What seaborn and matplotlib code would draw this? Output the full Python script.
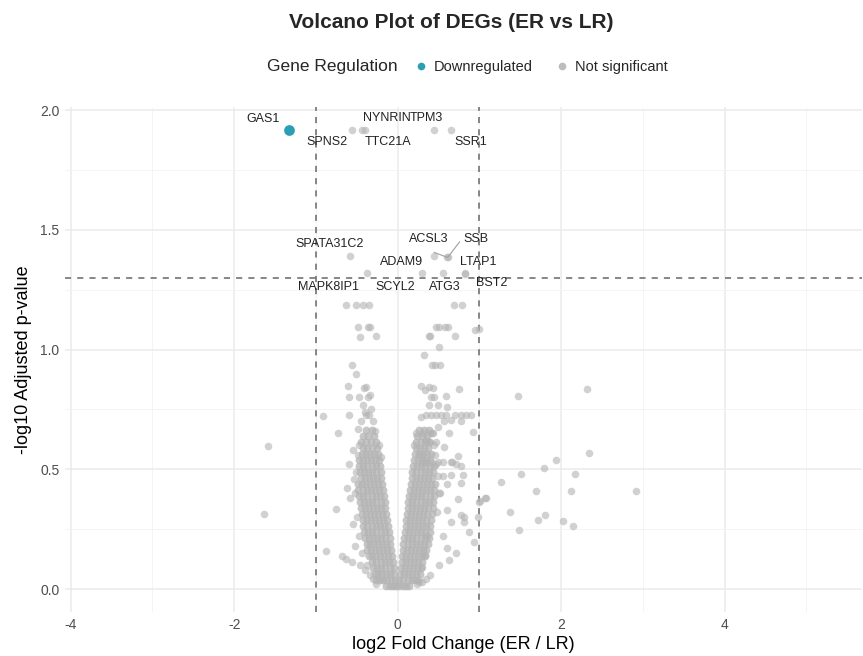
import matplotlib
matplotlib.use("Agg")
import matplotlib.pyplot as plt
from matplotlib.lines import Line2D
import numpy as np
import pandas as pd
import seaborn as sns

# ---------------- data ----------------
# dense V-shaped cloud of non-significant genes, listed row by row: (-log10 padj, [log2FC ...])
cloud_left = [
    (0.0125, [-0.02, -0.06, -0.10, -0.14]),
    (0.0375, [-0.03, -0.08, -0.13, -0.18, -0.22, -0.26]),
    (0.0625, [-0.04, -0.09, -0.14, -0.19, -0.24, -0.28]),
    (0.0875, [-0.05, -0.10, -0.15, -0.20, -0.25, -0.30]),
    (0.1125, [-0.06, -0.11, -0.16, -0.21, -0.26, -0.31]),
    (0.1375, [-0.07, -0.12, -0.17, -0.22, -0.27, -0.32, -0.35]),
    (0.1625, [-0.08, -0.13, -0.18, -0.23, -0.28, -0.33, -0.37]),
    (0.1875, [-0.09, -0.14, -0.19, -0.24, -0.29, -0.34, -0.38]),
    (0.2125, [-0.10, -0.15, -0.20, -0.25, -0.30, -0.35, -0.40]),
    (0.2375, [-0.11, -0.16, -0.21, -0.26, -0.31, -0.36, -0.41]),
    (0.2625, [-0.12, -0.17, -0.22, -0.27, -0.32, -0.37, -0.42]),
    (0.2875, [-0.13, -0.18, -0.23, -0.28, -0.33, -0.38, -0.43]),
    (0.3125, [-0.14, -0.19, -0.24, -0.29, -0.34, -0.39, -0.44]),
    (0.3375, [-0.15, -0.20, -0.25, -0.30, -0.35, -0.40, -0.45]),
    (0.3625, [-0.16, -0.21, -0.26, -0.31, -0.36, -0.41, -0.46]),
    (0.3875, [-0.17, -0.22, -0.27, -0.32, -0.37, -0.42, -0.47]),
    (0.4125, [-0.18, -0.23, -0.28, -0.33, -0.38, -0.43, -0.48]),
    (0.4375, [-0.19, -0.24, -0.29, -0.34, -0.39, -0.44, -0.49]),
    (0.4625, [-0.20, -0.25, -0.30, -0.35, -0.40, -0.45]),
    (0.4875, [-0.21, -0.26, -0.31, -0.36, -0.41, -0.46]),
    (0.5125, [-0.22, -0.27, -0.32, -0.37, -0.42, -0.47]),
    (0.5375, [-0.23, -0.28, -0.33, -0.38, -0.43, -0.47]),
    (0.5625, [-0.24, -0.29, -0.34, -0.39, -0.44]),
    (0.5875, [-0.25, -0.31, -0.37, -0.43]),
    (0.6125, [-0.27, -0.33, -0.39, -0.45]),
    (0.6375, [-0.29, -0.36, -0.43]),
    (0.6625, [-0.31, -0.39]),
]
cloud_right = [
    (0.0125, [0.02, 0.06, 0.10, 0.14]),
    (0.0375, [0.02, 0.07, 0.12, 0.17, 0.21, 0.25]),
    (0.0625, [0.03, 0.08, 0.13, 0.18, 0.23, 0.27]),
    (0.0875, [0.04, 0.09, 0.14, 0.19, 0.24, 0.28]),
    (0.1125, [0.05, 0.10, 0.15, 0.20, 0.25, 0.30]),
    (0.1375, [0.05, 0.10, 0.15, 0.20, 0.25, 0.30, 0.33]),
    (0.1625, [0.06, 0.11, 0.16, 0.21, 0.26, 0.31, 0.35]),
    (0.1875, [0.07, 0.12, 0.17, 0.22, 0.27, 0.32, 0.37]),
    (0.2125, [0.08, 0.13, 0.18, 0.23, 0.28, 0.33, 0.38]),
    (0.2375, [0.09, 0.14, 0.19, 0.24, 0.29, 0.34, 0.39]),
    (0.2625, [0.10, 0.15, 0.20, 0.25, 0.30, 0.35, 0.40]),
    (0.2875, [0.10, 0.15, 0.20, 0.25, 0.30, 0.35, 0.41]),
    (0.3125, [0.11, 0.16, 0.21, 0.26, 0.31, 0.36, 0.42]),
    (0.3375, [0.12, 0.17, 0.22, 0.27, 0.32, 0.37, 0.43]),
    (0.3625, [0.13, 0.18, 0.23, 0.28, 0.33, 0.38, 0.43]),
    (0.3875, [0.14, 0.19, 0.24, 0.29, 0.34, 0.39, 0.44]),
    (0.4125, [0.15, 0.20, 0.25, 0.30, 0.35, 0.40, 0.45]),
    (0.4375, [0.16, 0.21, 0.26, 0.31, 0.36, 0.41, 0.46]),
    (0.4625, [0.17, 0.22, 0.27, 0.32, 0.37, 0.42]),
    (0.4875, [0.18, 0.23, 0.28, 0.33, 0.38, 0.43]),
    (0.5125, [0.19, 0.24, 0.29, 0.34, 0.39, 0.44]),
    (0.5375, [0.20, 0.25, 0.30, 0.35, 0.40]),
    (0.5625, [0.21, 0.26, 0.31, 0.36, 0.41]),
    (0.5875, [0.22, 0.27, 0.32, 0.37]),
    (0.6125, [0.23, 0.28, 0.33, 0.38]),
    (0.6375, [0.24, 0.30, 0.36]),
    (0.6625, [0.26, 0.32, 0.38]),
]

# scattered non-significant genes outside the dense cloud
scatter_fc = [
    -0.913, -0.88, -1.585, -1.64, -0.73, -0.75, -0.68, -0.636, -0.56, -0.456, -0.34, -0.40,
    -0.52, -0.55, -0.58, -0.62, -0.54, -0.60, -0.55, -0.607, -0.383, -0.41, -0.60, -0.477,
    -0.334, -0.36, -0.42, -0.595, -0.39, -0.35, -0.559, -0.513, -0.456, -0.269, -0.49, -0.363,
    -0.342, -0.63, -0.51, -0.43, -0.35, -0.45, -0.30, -0.48, -0.28, -0.40, -0.33,
    -0.50, -0.47, -0.44, -0.38, -0.30, -0.27, -0.52, -0.51, -0.49, -0.47, -0.23, -0.20,
    0.685, 0.786, 0.47, 0.50, 0.58, 0.62, 0.95, 1.00, 0.383, 0.40, 0.70, 0.505, 0.318,
    0.42, 0.46, 0.52, 0.285, 0.387, 0.428, 0.34, 0.746, 0.59, 0.41, 0.45, 0.387, 0.49, 0.60,
    0.35, 0.41, 0.47, 0.53, 0.595, 0.70, 0.78, 0.84, 0.90,
    0.285, 0.652, 0.774, 0.57, 0.49, 0.917, 0.306, 0.39, 0.43, 0.63, 0.346, 0.39, 0.47, 0.57,
    0.285, 0.733, 0.67, 0.31, 0.35, 0.41, 0.49, 0.55, 0.65, 0.71, 0.774, 0.652, 0.795, 0.55,
    0.60, 0.774, 0.52, 0.733, 0.998, 1.07, 0.774, 0.815, 0.978, 0.60, 0.65, 0.815, 0.875,
    0.937, 0.55, 0.60, 0.713, 0.63, 0.50, 0.40, 0.35, 0.30,
    0.48, 0.50, 0.49, 0.47, 0.46, 0.44, 0.42, 0.36, 0.33, 0.30, 0.26, 0.24, 0.20, 0.22,
    1.476, 2.32, 2.34, 1.94, 1.785, 1.51, 2.17, 1.26, 1.69, 2.12, 2.92, 1.076, 1.01, 1.37,
    1.80, 1.72, 2.02, 2.15, 1.48,
]
scatter_p = [
    0.724, 0.157, 0.597, 0.312, 0.65, 0.333, 0.139, 0.125, 0.114, 0.100, 0.058, 0.080,
    0.18, 0.27, 0.38, 0.42, 0.46, 0.52, 0.58, 0.848, 0.845, 0.840, 0.800, 0.803,
    0.810, 0.800, 0.768, 0.726, 0.726, 0.726, 0.934, 0.898, 1.051, 1.056, 1.093, 1.093,
    1.093, 1.186, 1.186, 1.186, 1.186, 0.70, 0.70, 0.67, 0.66, 0.74, 0.75,
    0.30, 0.22, 0.15, 0.10, 0.04, 0.02, 0.40, 0.49, 0.56, 0.60, 0.60, 0.55,
    1.186, 1.186, 1.093, 1.093, 1.093, 1.093, 1.080, 1.085, 1.056, 1.056, 1.056, 1.012, 0.977,
    0.934, 0.934, 0.934, 0.848, 0.845, 0.838, 0.830, 0.834, 0.806, 0.803, 0.803, 0.768, 0.768, 0.761,
    0.727, 0.727, 0.727, 0.727, 0.727, 0.727, 0.727, 0.727, 0.727,
    0.717, 0.706, 0.703, 0.700, 0.678, 0.654, 0.650, 0.650, 0.650, 0.650, 0.622, 0.615, 0.615, 0.594,
    0.560, 0.555, 0.530, 0.530, 0.530, 0.530, 0.530, 0.530, 0.530, 0.520, 0.514, 0.476, 0.476, 0.470,
    0.440, 0.441, 0.400, 0.374, 0.365, 0.380, 0.309, 0.300, 0.302, 0.330, 0.280, 0.280, 0.240,
    0.198, 0.220, 0.170, 0.149, 0.120, 0.100, 0.060, 0.040, 0.030,
    0.32, 0.40, 0.47, 0.52, 0.56, 0.60, 0.65, 0.22, 0.14, 0.09, 0.03, 0.02, 0.60, 0.65,
    0.807, 0.835, 0.569, 0.539, 0.506, 0.479, 0.479, 0.448, 0.410, 0.410, 0.410, 0.379, 0.367, 0.320,
    0.309, 0.288, 0.286, 0.263, 0.246,
]

# labelled genes
label_genes = ["GAS1", "SPNS2", "NYNRIN", "TTC21A", "TPM3", "SSR1", "SPATA31C2", "MAPK8IP1",
               "SCYL2", "ADAM9", "ACSL3", "SSB", "ATG3", "LTAP1", "BST2"]
label_fc = [-1.33, -0.555, -0.44, -0.40, 0.44, 0.656, -0.587, -0.375,
            0.297, 0.44, 0.607, 0.612, 0.554, 0.82, 0.825]
label_p = [1.917, 1.917, 1.917, 1.917, 1.917, 1.917, 1.39, 1.318,
           1.318, 1.39, 1.385, 1.385, 1.318, 1.318, 1.316]
label_reg = ["Downregulated"] + ["Not significant"] * 14

fc_cut = 1.0
p_cut = 1.3

# ---------------- build tables ----------------
cloud_fc, cloud_p = [], []
for yv, xs in cloud_left + cloud_right:
    for xv in xs:
        cloud_fc.append(xv)
        cloud_p.append(yv)
df_cloud = pd.DataFrame({"log2FC": cloud_fc, "nlp": cloud_p, "Regulation": "Not significant"})
df_sparse = pd.DataFrame({"log2FC": scatter_fc, "nlp": scatter_p, "Regulation": "Not significant"})
df_lab = pd.DataFrame({"gene": label_genes, "log2FC": label_fc, "nlp": label_p,
                       "Regulation": label_reg})
df_sparse = pd.concat([df_sparse, df_lab[df_lab["Regulation"] == "Not significant"]],
                      ignore_index=True)
df_down = df_lab[df_lab["Regulation"] == "Downregulated"]

# ---------------- style ----------------
sns.set_theme(style="white")
plt.rcParams["font.family"] = ["Liberation Sans", "DejaVu Sans"]

W, H = 863, 656
fig = plt.figure(figsize=(W / 100, H / 100), dpi=100)
ax = fig.add_axes([65 / W, 1 - 612 / H, (862 - 65) / W, (612 - 107) / H])

grey = "#B3B3B3"
blue = "#2A9FB3"

sns.scatterplot(data=df_cloud, x="log2FC", y="nlp", color=grey, alpha=0.75, s=32,
                linewidth=0, ax=ax, legend=False, zorder=3)
sns.scatterplot(data=df_sparse, x="log2FC", y="nlp", color=grey, alpha=0.6, s=30,
                linewidth=0, ax=ax, legend=False, zorder=3)
sns.scatterplot(data=df_down, x="log2FC", y="nlp", color=blue, alpha=1.0, s=60,
                linewidth=0, ax=ax, legend=False, zorder=4)

ax.set_xlim(-4.07, 5.68)
ax.set_ylim(-0.096, 2.013)
ax.set_xticks([-4, -2, 0, 2, 4])
ax.set_xticks([-3, -1, 1, 3, 5], minor=True)
ax.set_yticks([0.0, 0.5, 1.0, 1.5, 2.0])
ax.set_yticks([0.25, 0.75, 1.25, 1.75], minor=True)
ax.set_xticklabels(["-4", "-2", "0", "2", "4"])
ax.set_yticklabels(["0.0", "0.5", "1.0", "1.5", "2.0"])
ax.grid(which="major", color="#EBEBEB", linewidth=1.1, zorder=0)
ax.grid(which="minor", color="#F3F3F3", linewidth=0.6, zorder=0)
ax.set_axisbelow(True)
for s in ax.spines.values():
    s.set_visible(False)
ax.tick_params(which="both", length=0, labelsize=10, labelcolor="#4D4D4D", pad=4)

for v in (-fc_cut, fc_cut):
    ax.axvline(v, color="#666666", linestyle=(0, (4, 4)), linewidth=1.1, zorder=2)
ax.axhline(p_cut, color="#666666", linestyle=(0, (4, 4)), linewidth=1.1, zorder=2)

ax.set_xlabel("log2 Fold Change (ER / LR)", fontsize=13, color="black", labelpad=3)
ax.set_ylabel("-log10 Adjusted p-value", fontsize=13, color="black", labelpad=6)

# label text placement (layout)
label_pos = {
    "GAS1": (-1.65, 1.962), "SPNS2": (-0.862, 1.868), "NYNRIN": (-0.134, 1.965),
    "TTC21A": (-0.122, 1.868), "TPM3": (0.355, 1.965), "SSR1": (0.892, 1.868),
    "SPATA31C2": (-0.831, 1.439), "ACSL3": (0.379, 1.46), "SSB": (0.953, 1.461),
    "ADAM9": (0.049, 1.364), "LTAP1": (0.99, 1.364), "MAPK8IP1": (-0.843, 1.262),
    "SCYL2": (-0.028, 1.262), "ATG3": (0.58, 1.262), "BST2": (1.149, 1.276),
}
seg_end = {"ACSL3": (0.445, 1.406), "SSB": (0.758, 1.45)}
for g, xv, yv in zip(label_genes, label_fc, label_p):
    tx, ty = label_pos[g]
    ax.text(tx, ty, g, fontsize=9, ha="center", va="center", color="#222222", zorder=6)
    if g in seg_end:
        ex, ey = seg_end[g]
        ax.plot([xv, ex], [yv, ey], color="#A0A0A0", linewidth=0.8, zorder=5)

fig.text(451 / W, 1 - 22 / H, "Volcano Plot of DEGs (ER vs LR)", fontsize=15,
         fontweight="bold", ha="center", va="center")
fig.text(398 / W, 1 - 67 / H, "Gene Regulation", fontsize=12.5, ha="right", va="center")
handles = [Line2D([], [], marker="o", linestyle="", markersize=5.5, color=blue, markeredgewidth=0),
           Line2D([], [], marker="o", linestyle="", markersize=5.5, color="#BDBDBD", markeredgewidth=0)]
fig.legend(handles, ["Downregulated", "Not significant"], loc="center left",
           bbox_to_anchor=(412 / W, 1 - 67 / H), ncol=2, frameon=False, fontsize=10.5,
           handletextpad=0.3, columnspacing=1.4, handlelength=1.2, borderpad=0, borderaxespad=0)

fig.savefig("out.png", dpi=100)
